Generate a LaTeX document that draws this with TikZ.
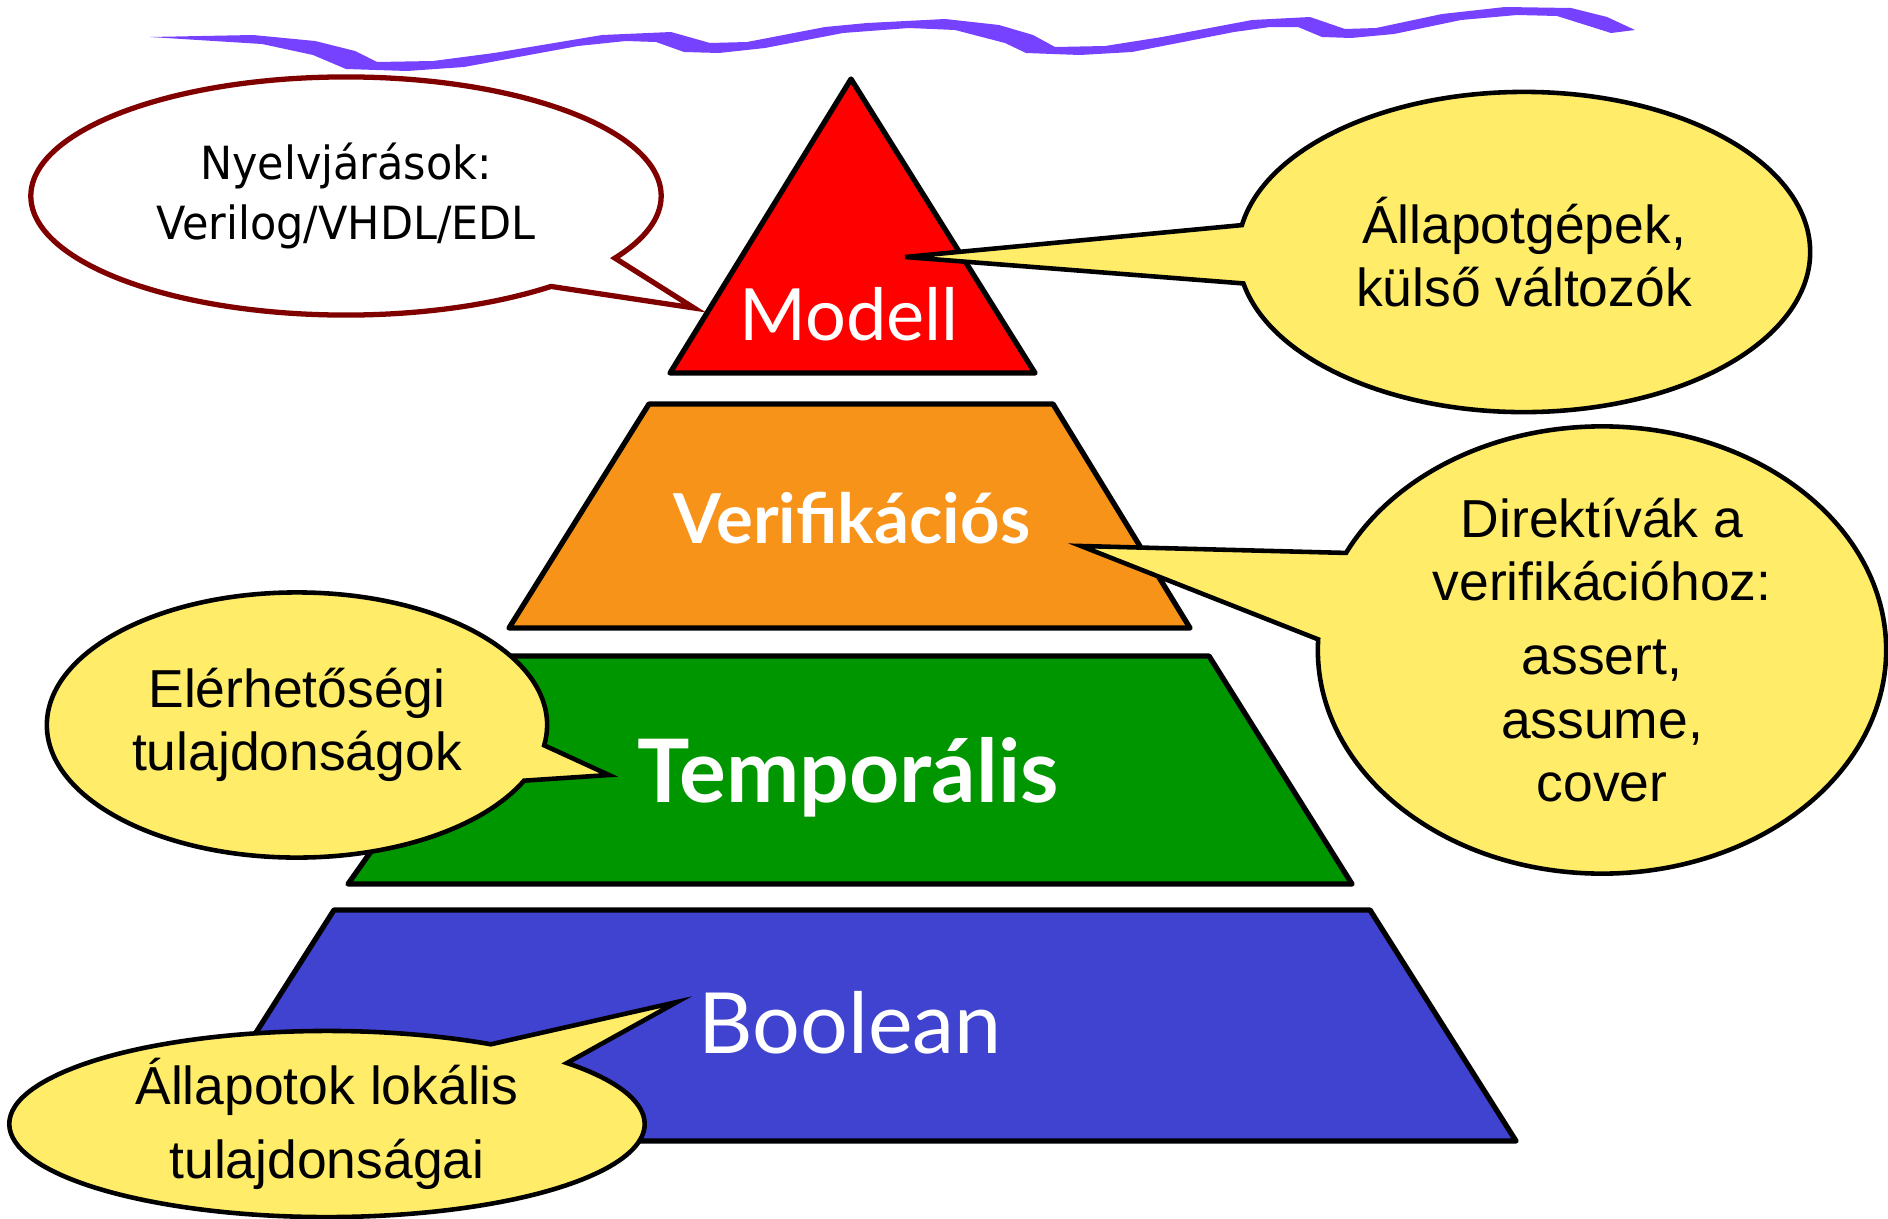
\documentclass[tikz,border=0pt]{standalone}
\usepackage{fontspec}
\setmainfont{Liberation Sans}
\newfontfamily\labelfont{Lato}
\newfontfamily\tahomafont[FakeStretch=0.94]{DejaVu Sans}
\usetikzlibrary{shapes.geometric,shapes.callouts}

\definecolor{wavepurple}{RGB}{118,66,255}
\definecolor{modellred}{RGB}{255,0,0}
\definecolor{verifyorange}{RGB}{248,147,26}
\definecolor{temporalgreen}{RGB}{0,150,0}
\definecolor{booleanblue}{RGB}{64,66,208}
\definecolor{bubbleyellow}{RGB}{255,236,104}
\definecolor{darkred}{RGB}{128,0,0}

\tikzset{
  layer/.style={draw=black, line width=1.5pt, line join=round},
  layerlabel/.style={text=white, anchor=base},
  bubble/.style={ellipse callout, draw=black, fill=bubbleyellow, line width=1.3pt,
    inner sep=0pt, align=center, font=\fontsize{15.2}{18}\selectfont},
}

\begin{document}
\begin{tikzpicture}[x=0.01cm,y=-0.01cm]
  \useasboundingbox (0,0) rectangle (1888,1218);
  % wavy line on top
  \fill[wavepurple] (150,37) -- (253,35) -- (315,41) -- (355,51) -- (377,62) -- (433,61)
    -- (494,53) -- (602,35) -- (671,32) -- (710,43) -- (747,42) -- (825,27) -- (867,23)
    -- (945,19) -- (999,25) -- (1033,35) -- (1055,47) -- (1105,46) -- (1162,37)
    -- (1252,20) -- (1310,17) -- (1345,29) -- (1376,28) -- (1442,14) -- (1505,7)
    -- (1571,8) -- (1607,17) -- (1635,30) -- (1611,33) -- (1557,16) -- (1517,15)
    -- (1461,20) -- (1394,34) -- (1351,38) -- (1322,37) -- (1298,27) -- (1270,27)
    -- (1234,32) -- (1132,52) -- (1080,55) -- (1026,53) -- (1005,43) -- (955,30)
    -- (909,28) -- (843,33) -- (765,48) -- (719,53) -- (684,52) -- (656,42) -- (626,41)
    -- (578,46) -- (464,67) -- (407,71) -- (346,69) -- (313,55) -- (262,44) -- cycle;
  % pyramid layers
  \filldraw[layer,fill=modellred] (851,79) -- (1035,373) -- (670,373) -- cycle;
  \filldraw[layer,fill=verifyorange] (649,404) -- (1053,404) -- (1190,628) -- (509,628) -- cycle;
  \filldraw[layer,fill=temporalgreen] (509,656) -- (1209,656) -- (1352,884) -- (348,884) -- cycle;
  \filldraw[layer,fill=booleanblue] (334,910) -- (1370,910) -- (1516,1141) -- (187,1141) -- cycle;
  % layer names
  \node[layerlabel, font=\labelfont\fontsize{20.5}{24}\selectfont] (modell) at (849,340) {Modell};
  \node[layerlabel, font=\labelfont\bfseries\fontsize{19.6}{24}\selectfont] (verif) at (852,543) {Verifikációs};
  \node[layerlabel, font=\labelfont\bfseries\fontsize{24.9}{30}\selectfont] (temporal) at (848,802) {Temporális};
  \node[layerlabel, font=\labelfont\fontsize{24}{30}\selectfont] (boolean) at (850,1053) {Boolean};
  % pointer tips
  \coordinate (tipLang) at (694,308);
  \coordinate (tipFsm) at (905,257);
  \coordinate (tipDir) at (1081,546);
  \coordinate (tipReach) at (609,775);
  \coordinate (tipLocal) at (677,1002);
  % callouts
  \node[bubble, draw=darkred, fill=white, line width=1.5pt, minimum width=6.30cm, minimum height=2.38cm,
    font=\tahomafont\fontsize{13}{16.8}\selectfont, callout pointer arc=18,
    callout absolute pointer={(tipLang)}] (lang) at (346,196)
    {Nyelvjárások:\\Verilog/VHDL/EDL};
  \node[bubble, minimum width=5.72cm, minimum height=3.20cm, callout pointer arc=21,
    callout absolute pointer={(tipFsm)}] (fsm) at (1524,252)
    {Állapotgépek,\\külső változók};
  \node[bubble, minimum width=5.68cm, minimum height=4.47cm, callout pointer arc=23,
    callout absolute pointer={(tipDir)}] (dir) at (1602,650)
    {Direktívák a\\verifikációhoz:\\[3pt]assert,\\assume,\\cover};
  \node[bubble, minimum width=5.00cm, minimum height=2.65cm, callout pointer arc=16,
    callout absolute pointer={(tipReach)}] (reach) at (297,725)
    {Elérhetőségi\\tulajdonságok};
  \node[bubble, minimum width=6.35cm, minimum height=1.86cm, callout pointer arc=18,
    callout absolute pointer={(tipLocal)}] (local) at (327,1124)
    {Állapotok lokális\\[3pt]tulajdonságai};
\end{tikzpicture}
\end{document}
